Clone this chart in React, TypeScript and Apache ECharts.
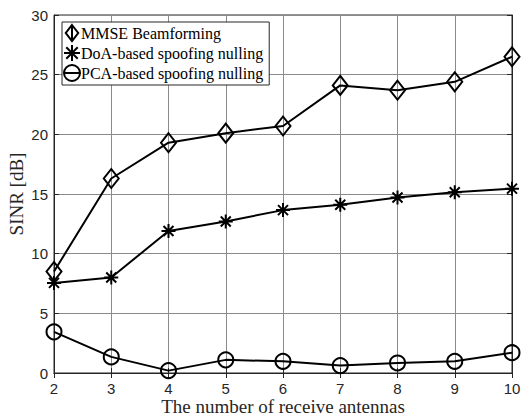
import React, { useEffect, useRef } from "react";
import * as echarts from "echarts";

const antennas = [2, 3, 4, 5, 6, 7, 8, 9, 10];
const mmse = [8.5, 16.3, 19.3, 20.1, 20.7, 24.1, 23.7, 24.4, 26.5];
const doa = [7.55, 8.0, 11.9, 12.7, 13.65, 14.1, 14.7, 15.15, 15.45];
const pca = [3.45, 1.35, 0.2, 1.1, 0.98, 0.62, 0.84, 0.98, 1.7];
const seriesNames = ["MMSE Beamforming", "DoA-based spoofing nulling", "PCA-based spoofing nulling"];

const diamond = "path://M0,-9L7,0L0,9L-7,0Z";
const star = "path://M0,-7L0,7M-7,0L7,0M-5,-5L5,5M-5,5L5,-5";
const diamondLegend = "path://M0,-9L7,0L0,9L-7,0ZM0,-9L0,9";
const circleLegend = "path://M-7,0A7,7,0,1,1,7,0A7,7,0,1,1,-7,0ZM-7,0L7,0";

export default function App() {
  const ref = useRef<HTMLDivElement>(null);
  useEffect(() => {
    const chart = echarts.init(ref.current!, undefined, { renderer: "svg" });
    const mk = (arr: number[]) => antennas.map((x, i) => [x, arr[i]]);
    const markerStyle = { color: "transparent", borderColor: "#000", borderWidth: 2 };
    const tickStyle = { show: true, inside: true, length: 5, lineStyle: { color: "#262626" } };
    chart.setOption({
      animation: false,
      backgroundColor: "#fff",
      grid: {
        left: 54,
        right: 9,
        top: 15,
        bottom: 44,
        show: true,
        borderColor: "#262626",
        borderWidth: 1,
        containLabel: false,
        outerBoundsMode: "none",
      },
      legend: {
        left: 62,
        top: 22,
        orient: "vertical",
        backgroundColor: "#fff",
        borderColor: "#262626",
        borderWidth: 1,
        borderRadius: 0,
        padding: [2, 6, 3, 1],
        itemGap: 2,
        itemWidth: 16,
        itemHeight: 16,
        textStyle: { fontFamily: "Liberation Serif", fontSize: 16, color: "#000", padding: [0, 0, 0, -4] },
        data: [
          { name: seriesNames[0], icon: diamondLegend, itemStyle: markerStyle },
          { name: seriesNames[1], icon: star, itemStyle: markerStyle },
          { name: seriesNames[2], icon: circleLegend, itemStyle: markerStyle },
        ],
      },
      xAxis: [
        {
          type: "value",
          min: 2,
          max: 10,
          interval: 1,
          name: "The number of receive antennas",
          nameLocation: "middle",
          nameGap: 24,
          nameMoveOverlap: false,
          nameTextStyle: { fontFamily: "Liberation Serif", fontSize: 19, lineHeight: 18, color: "#262626" },
          axisLine: { show: true, lineStyle: { color: "#262626" } },
          axisTick: tickStyle,
          axisLabel: { fontFamily: "Liberation Sans", fontSize: 15, color: "#262626", margin: 8 },
          splitLine: { show: true, lineStyle: { color: "#8a8a8a", width: 1 } },
        },
        {
          type: "value",
          position: "top",
          min: 2,
          max: 10,
          interval: 1,
          axisLine: { show: true, lineStyle: { color: "#262626" } },
          axisTick: tickStyle,
          axisLabel: { show: false },
          splitLine: { show: false },
        },
      ],
      yAxis: [
        {
          type: "value",
          min: 0,
          max: 30,
          interval: 5,
          name: "SINR [dB]",
          nameLocation: "middle",
          nameGap: 28,
          nameMoveOverlap: false,
          nameTextStyle: { fontFamily: "Liberation Serif", fontSize: 19, color: "#262626" },
          axisLine: { show: true, lineStyle: { color: "#262626" } },
          axisTick: tickStyle,
          axisLabel: { fontFamily: "Liberation Sans", fontSize: 15, color: "#262626", margin: 6 },
          splitLine: { show: true, lineStyle: { color: "#8a8a8a", width: 1 } },
        },
        {
          type: "value",
          position: "right",
          min: 0,
          max: 30,
          interval: 5,
          axisLine: { show: true, lineStyle: { color: "#262626" } },
          axisTick: tickStyle,
          axisLabel: { show: false },
          splitLine: { show: false },
        },
      ],
      series: [
        {
          name: seriesNames[0],
          type: "line",
          data: mk(mmse),
          symbol: diamond,
          symbolSize: [15, 19],
          lineStyle: { color: "#000", width: 2 },
          itemStyle: markerStyle,
          z: 3,
        },
        {
          name: seriesNames[1],
          type: "line",
          data: mk(doa),
          symbol: star,
          symbolSize: 14,
          lineStyle: { color: "#000", width: 2 },
          itemStyle: markerStyle,
          z: 3,
        },
        {
          name: seriesNames[2],
          type: "line",
          data: mk(pca),
          symbol: "circle",
          symbolSize: 15,
          lineStyle: { color: "#000", width: 2 },
          itemStyle: markerStyle,
          z: 3,
        },
      ],
    });
    return () => chart.dispose();
  }, []);
  return <div ref={ref} style={{ width: 521, height: 417, position: "absolute", left: 0, top: 0 }} />;
}
